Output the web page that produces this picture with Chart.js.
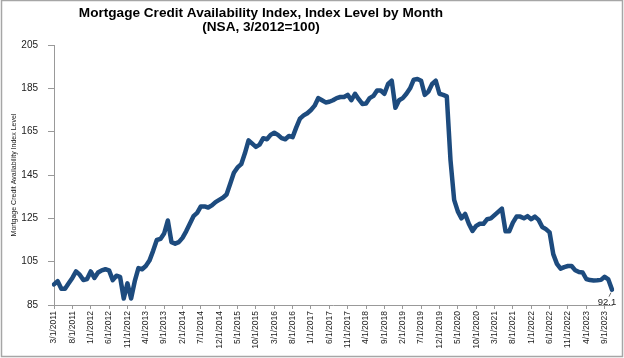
<!DOCTYPE html>
<html>
<head>
<meta charset="utf-8">
<script src="https://cdn.jsdelivr.net/npm/chart.js@4/dist/chart.umd.min.js"></script>
<style>
  html, body { margin: 0; padding: 0; background: #fff; }
  canvas { display: block; }
</style>
</head>
<body>
<canvas id="mcai" width="624" height="358"></canvas>
<script>
//Chart text
const titleLines = ["Mortgage Credit Availability Index, Index Level by Month", "(NSA, 3/2012=100)"];
const yTitle = "Mortgage Credit Availability Index Level";

//Monthly index values, 3/2011 .. 11/2023
const mcai = [
  94.5, 96, 92.5, 92.5, 95, 97.5, 100.5, 99, 96.5, 97,
  100.5, 97.5, 100, 101, 101.5, 101, 96.5, 98.5, 98, 88,
  95, 88, 96, 102, 101.5, 103, 105.5, 110, 115, 115.5,
  118, 124, 114, 113.3, 114, 116, 119, 122.5, 126, 127.5,
  130.5, 130.5, 130, 131, 132.5, 133.5, 134.5, 136, 141, 146,
  148.5, 150, 155, 161, 159.5, 158, 159, 162, 161.5, 163.5,
  164.5, 163.5, 162, 161.5, 163, 162.5, 167, 171, 172.5, 173.5,
  175, 177, 180.5, 179.5, 178.5, 178.8, 179.5, 180.5, 181, 181,
  182, 179.5, 182.5, 180, 177.8, 178, 180.5, 181.5, 184, 184,
  182.5, 187, 188.5, 176, 179.5, 180.5, 182.5, 185, 189, 189.3,
  188.5, 182, 183.5, 187, 188.5, 182.5, 182, 181.3, 152, 133.5,
  128.2, 125, 127, 122.5, 119.2, 121.5, 122.5, 122.5, 124.6, 125,
  126.5, 128, 129.5, 119, 119, 123, 125.8, 125.8, 125, 126,
  124.6, 125.8, 124.3, 121, 120, 118.5, 108.5, 104, 101.8, 102.5,
  103, 103, 101, 100.2, 100, 97, 96.5, 96.3, 96.4, 96.6,
  98, 96.8, 92.1
];

//Month categories
const startYear = 2011;
const startMonth = 3;
const months = [];
for (let k = 0; k < mcai.length; k++) {
  const m = (startMonth - 1 + k) % 12 + 1;
  const y = startYear + Math.floor((startMonth - 1 + k) / 12);
  months.push(m + "/1/" + y);
}

//Y axis range
const yMin = 85;
const yMax = 205;
const yStep = 20;

const fontFam = '"Liberation Sans", Arial, sans-serif';

//Title, frame and last-value label
const decorPlugin = {
  id: "decor",
  beforeDraw(chart) {
    const ctx = chart.ctx;
    ctx.save();
    ctx.fillStyle = "#fff";
    ctx.fillRect(0, 0, chart.width, chart.height);
    ctx.strokeStyle = "#a6a6a6";
    ctx.lineWidth = 1.5;
    ctx.strokeRect(1.5, 0.5, 621, 356);
    ctx.restore();
  },
  afterDraw(chart) {
    const ctx = chart.ctx;
    ctx.save();
    ctx.fillStyle = "#000";
    ctx.textAlign = "center";
    ctx.textBaseline = "alphabetic";
    ctx.font = "bold 13.6px " + fontFam;
    ctx.fillText(titleLines[0], 261, 17);
    ctx.fillText(titleLines[1], 261, 31);

    const meta = chart.getDatasetMeta(0);
    const last = meta.data[meta.data.length - 1];
    ctx.strokeStyle = "#444";
    ctx.lineWidth = 0.8;
    ctx.beginPath();
    ctx.moveTo(last.x - 1, last.y + 3);
    ctx.lineTo(last.x - 3, last.y + 7);
    ctx.stroke();
    ctx.font = "9.5px " + fontFam;
    ctx.fillStyle = "#222";
    ctx.fillText(mcai[mcai.length - 1].toFixed(1), last.x - 5, last.y + 15);
    ctx.restore();
  },
};

new Chart(document.getElementById("mcai"), {
  type: "line",
  plugins: [decorPlugin],
  data: {
    labels: months,
    datasets: [
      {
        data: mcai,
        borderColor: "#1D4B7E",
        borderWidth: 4.5,
        pointRadius: 0,
        tension: 0,
        borderJoinStyle: "round",
        borderCapStyle: "round",
      },
    ],
  },
  options: {
    responsive: false,
    animation: false,
    layout: { padding: { left: 6, right: 12, top: 45, bottom: 0 } },
    plugins: {
      legend: { display: false },
      tooltip: { enabled: false },
      title: { display: false },
    },
    scales: {
      x: {
        offset: false,
        grid: { drawOnChartArea: false, drawTicks: true, tickLength: 4, color: "#999" },
        border: { color: "#999", width: 1 },
        ticks: {
          autoSkip: false,
          maxRotation: 90,
          minRotation: 90,
          padding: 2,
          color: "#222",
          font: { family: fontFam, size: 8.5 },
          callback: (val, idx) => (idx % 5 === 0 ? months[idx] : null),
        },
        afterFit: (s) => { s.height = 53; },
      },
      y: {
        min: yMin,
        max: yMax,
        grid: { drawOnChartArea: false, drawTicks: true, tickLength: 6, color: "#999" },
        border: { color: "#999", width: 1 },
        ticks: {
          stepSize: yStep,
          padding: 10,
          color: "#222",
          font: { family: fontFam, size: 10 },
        },
        title: {
          display: true,
          text: yTitle,
          color: "#222",
          padding: 4,
          font: { family: fontFam, size: 7 },
        },
        afterFit: (s) => { s.width = 48; },
      },
    },
  },
});
</script>
</body>
</html>
